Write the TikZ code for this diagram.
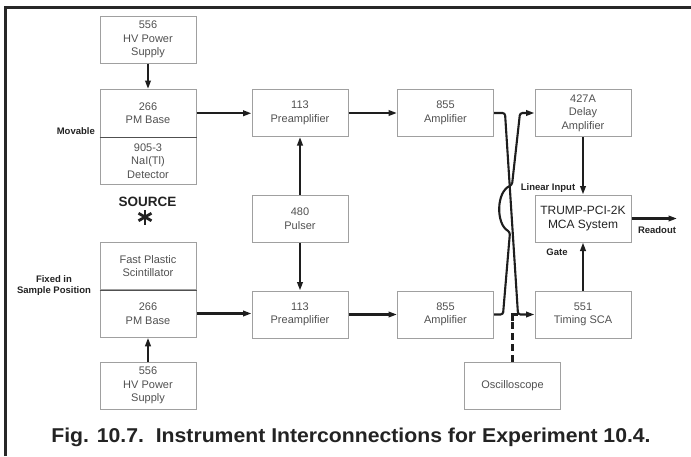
\documentclass[tikz,border=0pt]{standalone}
\usepackage{fontspec}
\setmainfont{Liberation Sans}
\usetikzlibrary{arrows.meta}
\definecolor{boxgray}{RGB}{160,160,160}
\definecolor{boxtext}{RGB}{80,80,80}
\definecolor{wirec}{RGB}{30,30,30}
\definecolor{lblc}{RGB}{35,35,35}
\definecolor{framec}{RGB}{40,40,40}
\begin{document}
\begin{tikzpicture}[x=1pt,y=-1pt,
  box/.style={draw=boxgray, line width=1pt, minimum width=96pt, minimum height=47pt,
    inner sep=0pt, align=center, text=boxtext, font=\fontsize{11}{13.5}\selectfont},
  halfbox/.style={box, minimum height=47.5pt},
  wire/.style={draw=wirec, line width=2.1pt},
  arr/.style={wire, -{Triangle[length=8.5pt,width=5.5pt]}},
  lbl/.style={font=\bfseries\fontsize{9.5}{11}\selectfont, text=lblc, inner sep=0pt, align=center},
]
\useasboundingbox (0,0) rectangle (691,456);
\draw[line width=3pt, framec] (5.5,456) -- (5.5,7.5) -- (691,7.5);

% left column
\node[box] (hvA) at (148,39.5) {556\\HV Power\\Supply};
\node[halfbox] (pmA) at (148,113.25) {266\\PM Base};
\node[halfbox] (detA) at (148,160.75) {905-3\\NaI(Tl)\\Detector};
\draw[line width=1.3pt, draw=boxtext] (pmA.south west) -- (pmA.south east);
\node[halfbox] (fps) at (148,266) {Fast Plastic\\Scintillator};
\node[halfbox] (pmB) at (148,313.5) {266\\PM Base};
\draw[line width=1.3pt, draw=boxtext] (fps.south west) -- (fps.south east);
\node[box] (hvB) at (148,385.5) {556\\HV Power\\Supply};

\node[lbl, anchor=east] (mov) at (95,131) {Movable};
\node[lbl] (fixed) at (54,285.5) {Fixed in\\Sample Position};
\node[font=\bfseries\fontsize{13.5}{16}\selectfont, text=lblc, inner sep=0pt] (src) at (147.5,202) {SOURCE};
\coordinate (ast) at (145,217);
\foreach \a in {90,30,150}
  \draw[line width=2.8pt, draw=lblc] ([shift={(\a:7.5)}]ast) -- ([shift={(\a+180:7.5)}]ast);

% middle
\node[box] (preA) at (300,113) {113\\Preamplifier};
\node[box] (pulser) at (300,218.5) {480\\Pulser};
\node[box] (preB) at (300,314.5) {113\\Preamplifier};
\node[box] (ampA) at (445.5,113) {855\\Amplifier};
\node[box] (ampB) at (445.5,314.5) {855\\Amplifier};

% right
\node[box] (delay) at (583,113) {427A\\Delay\\Amplifier};
\node[box, font=\fontsize{12}{14.5}\selectfont, text=lblc] (mca) at (583,218.5) {TRUMP-PCI-2K\\MCA System};
\node[box] (sca) at (583,314.5) {551\\Timing SCA};
\node[box] (osc) at (512.5,385.5) {Oscilloscope};

\node[lbl] (lin) at (548,188) {Linear Input};
\node[lbl] (gate) at (557,252) {Gate};
\node[lbl] (rol) at (657,230) {Readout};

% connectors
\draw[arr] (hvA) -- (pmA);
\draw[arr] (hvB) -- (pmB);
\draw[arr] (pmA.east) -- (pmA.east -| preA.west);
\draw[arr] (pmB.east) -- (pmB.east -| preB.west);
\draw[arr] (pulser) -- (preA);
\draw[arr] (pulser) -- (preB);
\draw[arr] (preA) -- (ampA);
\draw[arr] (preB) -- (ampB);
\draw[arr] (delay) -- (mca);
\draw[arr] (sca) -- (mca);
\coordinate (ro) at (677,218.5);
\draw[arr] (mca.east) -- (ro);

\coordinate (a1) at (505,113);
\coordinate (a2) at (518,314.5);
\draw[arr, rounded corners=2.5pt] (ampA.east) -- (a1) -- (a2) -- (sca.west);
\coordinate (b1) at (503,314.5);
\coordinate (b2) at (510,232);
\coordinate (b3) at (512,185);
\coordinate (b4) at (520,113);
\draw[arr, rounded corners=2.5pt] (ampB.east) -- (b1) -- (b2) .. controls (496,224) and (496,192) .. (b3) -- (b4) -- (delay.west);

\coordinate (d1) at (512.5,321);
\coordinate (d2) at (512.5,314.5);
\draw[wire, line width=2.3pt, dash pattern=on 7pt off 4pt] (osc.north) -- (d1);
\draw[wire] (d1) -- (d2) -- (a2);

% caption
\node[font=\bfseries\fontsize{20}{24}\selectfont, text=lblc, inner sep=0pt] (cap) at (351,437)
  {\scalebox{1.06}[1]{Fig. 10.7.\ \ Instrument Interconnections for Experiment 10.4.}};
\end{tikzpicture}
\end{document}
